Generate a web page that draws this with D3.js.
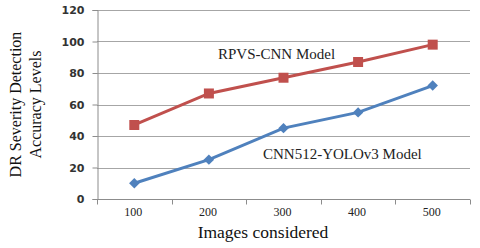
<!DOCTYPE html>
<html>
<head>
<meta charset="utf-8">
<script src="https://cdn.jsdelivr.net/npm/d3@7"></script>
<style>
  body { margin: 0; background: #fff; }
  svg { display: block; }
</style>
</head>
<body>
<div id="chart"></div>
<script>
var categories = ["100", "200", "300", "400", "500"];
var rpvsValues = [47, 67, 77, 87, 98];
var yoloValues = [10, 25, 45, 55, 72];
var yTicks = [0, 20, 40, 60, 80, 100, 120];

var width = 480, height = 248;
var margin = { top: 10, right: 10, bottom: 49, left: 97 };

var svg = d3.select("#chart").append("svg")
    .attr("width", width)
    .attr("height", height);

var x = d3.scaleBand()
    .domain(categories)
    .range([margin.left, width - margin.right]);

var y = d3.scaleLinear()
    .domain([0, 120])
    .range([height - margin.bottom, margin.top]);

// gridlines
svg.append("g")
  .selectAll("line")
  .data(yTicks.slice(1))
  .enter().append("line")
    .attr("x1", margin.left)
    .attr("x2", width - margin.right)
    .attr("y1", function(d) { return Math.round(y(d)) + 0.5; })
    .attr("y2", function(d) { return Math.round(y(d)) + 0.5; })
    .attr("stroke", "#a6a6a6")
    .attr("stroke-width", 1)
;

// y axis
var yAxis = svg.append("g")
    .attr("transform", "translate(" + (margin.left + 0.5) + ",0)")
    .call(d3.axisLeft(y).tickValues(yTicks).tickSize(5).tickPadding(8));
yAxis.select(".domain").attr("stroke", "#8c8c8c");
yAxis.selectAll(".tick line").attr("stroke", "#8c8c8c");
yAxis.selectAll(".tick text")
    .attr("fill", "#333")
    .style("font-family", "'DejaVu Sans', Verdana, sans-serif")
    .style("font-weight", "bold")
    .style("font-size", "11px");

// x axis with ticks at band edges
var xAxis = svg.append("g")
    .attr("transform", "translate(0," + (Math.round(y(0)) + 0.5) + ")");
xAxis.append("line")
    .attr("x1", margin.left)
    .attr("x2", width - margin.right)
    .attr("stroke", "#8c8c8c");
xAxis.selectAll("line.edge")
  .data(categories.concat([null]))
  .enter().append("line")
    .attr("class", "edge")
    .attr("x1", function(d, i) { return Math.round(margin.left + i * x.bandwidth()) + 0.5; })
    .attr("x2", function(d, i) { return Math.round(margin.left + i * x.bandwidth()) + 0.5; })
    .attr("y1", 0)
    .attr("y2", 5)
    .attr("stroke", "#8c8c8c");
xAxis.selectAll("text")
  .data(categories)
  .enter().append("text")
    .attr("x", function(d) { return x(d) + x.bandwidth() / 2 - 1; })
    .attr("y", 16)
    .attr("text-anchor", "middle")
    .attr("fill", "#222")
    .style("font-family", "'Liberation Serif', 'Times New Roman', serif")
    .style("font-size", "12px")
    .text(function(d) { return d; });

// axis titles
svg.append("text")
    .attr("x", 263)
    .attr("y", 238)
    .attr("text-anchor", "middle")
    .attr("fill", "#111")
    .style("font-family", "'Liberation Serif', 'Times New Roman', serif")
    .style("font-size", "17.5px")
    .text("Images considered");

var yTitle = svg.append("text")
    .attr("transform", "translate(21," + ((margin.top + y(0)) / 2) + ") rotate(-90)")
    .attr("text-anchor", "middle")
    .attr("fill", "#111")
    .style("font-family", "'Liberation Serif', 'Times New Roman', serif")
    .style("font-size", "16px");
yTitle.append("tspan").attr("x", 0).attr("dy", 0).text("DR Severity Detection");
yTitle.append("tspan").attr("x", 0).attr("dy", 20).text("Accuracy Levels");

// series
var line = d3.line()
    .x(function(d, i) { return x(categories[i]) + x.bandwidth() / 2; })
    .y(function(d) { return y(d); });

var series = [
    { name: "RPVS-CNN Model", values: rpvsValues, color: "#c0504d", rotate: 0, size: 100 },
    { name: "CNN512-YOLOv3 Model", values: yoloValues, color: "#4f81bd", rotate: 45, size: 55 }
];

series.forEach(function(s) {
    svg.append("path")
        .datum(s.values)
        .attr("fill", "none")
        .attr("stroke", s.color)
        .attr("stroke-width", 3)
        .attr("d", line);
    svg.append("g")
      .selectAll("path")
      .data(s.values)
      .enter().append("path")
        .attr("transform", function(d, i) {
            return "translate(" + (x(categories[i]) + x.bandwidth() / 2) + "," + y(d) + ") rotate(" + s.rotate + ")";
        })
        .attr("d", d3.symbol().type(d3.symbolSquare).size(s.size))
        .attr("fill", s.color);
});

// series labels
svg.append("text")
    .attr("x", 218)
    .attr("y", 59)
    .attr("fill", "#222")
    .style("font-family", "'Liberation Serif', 'Times New Roman', serif")
    .style("font-size", "15px")
    .text(series[0].name);
svg.append("text")
    .attr("x", 263)
    .attr("y", 159)
    .attr("fill", "#222")
    .style("font-family", "'Liberation Serif', 'Times New Roman', serif")
    .style("font-size", "15px")
    .text(series[1].name);
</script>
</body>
</html>
